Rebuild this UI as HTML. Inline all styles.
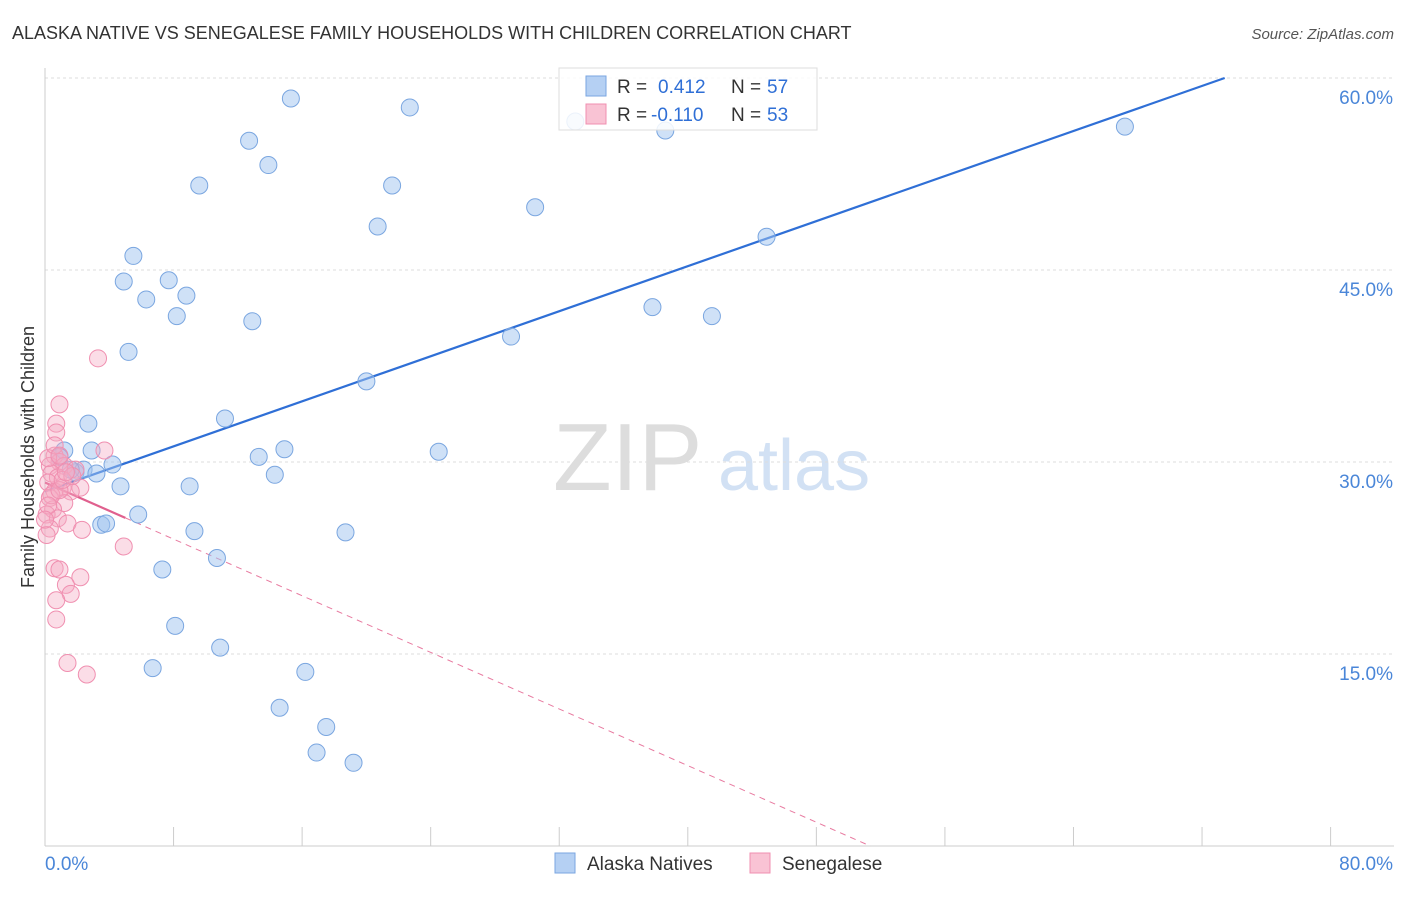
<!DOCTYPE html>
<html><head><meta charset="utf-8"><style>
body{margin:0;background:#fff;font-family:"Liberation Sans",sans-serif;}
svg text{font-family:"Liberation Sans",sans-serif;}
</style></head><body>
<svg id="chart" width="1406" height="892">
<text x="12" y="39" font-size="18" fill="#333">ALASKA NATIVE VS SENEGALESE FAMILY HOUSEHOLDS WITH CHILDREN CORRELATION CHART</text>
<text x="1394" y="39" font-size="15" fill="#555" text-anchor="end" font-style="italic">Source: ZipAtlas.com</text>
<text x="34" y="457" font-size="18" fill="#333" text-anchor="middle" transform="rotate(-90 34 457)">Family Households with Children</text>
<g><text x="553" y="490" font-size="96" fill="#ddd" font-family="Liberation Serif,serif">ZIP</text><text x="718" y="490" font-size="72" fill="#d2e1f4">atlas</text></g>
<g id="grid"></g><g id="axes"></g><g id="lines"></g><g id="pts"></g>
<g>
<rect x="559" y="68" width="258" height="62" fill="rgba(255,255,255,0.85)" stroke="#ddd"/>
<rect x="586" y="76" width="20" height="20" fill="#b5d0f3" stroke="#7aa6e0"/>
<text x="617" y="93" font-size="19" fill="#333">R =</text><text x="658" y="93" font-size="19" fill="#2f6fd6">0.412</text>
<text x="731" y="93" font-size="19" fill="#333">N =</text><text x="767" y="93" font-size="19" fill="#2f6fd6">57</text>
<rect x="586" y="104" width="20" height="20" fill="#f9c3d4" stroke="#f08fb0"/>
<text x="617" y="121" font-size="19" fill="#333">R =</text><text x="651" y="121" font-size="19" fill="#2f6fd6">-0.110</text>
<text x="731" y="121" font-size="19" fill="#333">N =</text><text x="767" y="121" font-size="19" fill="#2f6fd6">53</text>
</g>
<g>
<rect x="555" y="853" width="20" height="20" fill="#b5d0f3" stroke="#7aa6e0"/>
<text x="587" y="870" font-size="19" fill="#333">Alaska Natives</text>
<rect x="750" y="853" width="20" height="20" fill="#f9c3d4" stroke="#f08fb0"/>
<text x="782" y="870" font-size="19" fill="#333">Senegalese</text>
</g>
</svg>
<script>
const blueX=[15.3,22.7,12.7,13.9,9.6,21.6,30.5,20.7,5.5,4.9,7.7,6.3,8.8,8.2,12.9,5.2,20.0,29.0,37.8,41.5,44.9,38.6,33.0,67.2,2.7,1.2,2.9,1.9,2.4,3.2,4.2,11.2,13.3,14.9,14.3,24.5,4.7,9.0,5.8,3.5,3.8,9.3,18.7,10.7,7.3,8.1,10.9,6.7,16.2,14.6,17.5,16.9,19.2,0.9,1.6];
const blueY=[58.4,57.7,55.1,53.2,51.6,51.6,49.9,48.4,46.1,44.1,44.2,42.7,43.0,41.4,41.0,38.6,36.3,39.8,42.1,41.4,47.6,55.9,56.6,56.2,33.0,30.9,30.9,29.2,29.4,29.1,29.8,33.4,30.4,31.0,29.0,30.8,28.1,28.1,25.9,25.1,25.2,24.6,24.5,22.5,21.6,17.2,15.5,13.9,13.6,10.8,9.3,7.3,6.5,30.4,29.4];
const pinkX=[3.3,0.9,0.7,0.7,3.7,0.6,0.9,0.3,1.2,0.4,0.8,0.2,1.1,2.2,0.6,1.6,0.3,1.2,0.5,0.1,0.8,1.4,0.3,2.3,0.1,4.9,0.6,0.9,2.2,1.3,1.6,0.7,0.7,1.4,2.6,0.2,1.9,0.4,0.9,0.2,0.0,1.1,1.7,0.6,0.9,1.3];
const pinkY=[38.1,34.5,33.0,32.3,30.9,30.5,30.0,29.7,29.7,29.1,28.8,28.4,28.0,28.0,27.7,27.7,27.2,26.8,26.3,25.9,25.6,25.2,24.8,24.7,24.3,23.4,21.7,21.6,21.0,20.4,19.7,19.2,17.7,14.3,13.4,30.3,29.4,27.4,27.8,26.6,25.5,28.6,28.9,31.3,30.5,29.2];
const yTicks=[15,30,45,60];
const blueFit=[27.7,0.44];
const pinkFit=[28.4,-0.553];
const NS="http://www.w3.org/2000/svg";
const sx=v=>45+v*16.07, sy=v=>846-v*12.8;
function mk(tag,attrs,parent){const e=document.createElementNS(NS,tag);for(const k in attrs)e.setAttribute(k,attrs[k]);document.getElementById(parent).appendChild(e);return e;}
yTicks.forEach(t=>{
 const l=mk('line',{x1:45,x2:1394,y1:sy(t),y2:sy(t),stroke:'#ddd','stroke-dasharray':'3,3'},'grid');
 
 
 const tx=mk('text',{x:1393,y:sy(t)+26,'font-size':19,fill:'#4a86d8','text-anchor':'end'},'grid');tx.textContent=t.toFixed(1)+'%';
 
 
});
mk('line',{x1:45,x2:45,y1:68,y2:846,stroke:'#ccc'},'axes');
mk('line',{x1:45,x2:1394,y1:846,y2:846,stroke:'#ccc'},'axes');
for(let i=0;i<=10;i++){mk('line',{x1:sx(i*8),x2:sx(i*8),y1:827,y2:846,stroke:'#ccc'},'axes');}
let t0=mk('text',{x:45,y:870,'font-size':19,fill:'#4a86d8'},'axes');t0.textContent='0.0%';


let t1=mk('text',{x:1393,y:870,'font-size':19,fill:'#4a86d8','text-anchor':'end'},'axes');t1.textContent='80.0%';


blueX.forEach((x,i)=>{const c=mk('circle',{cx:sx(x),cy:sy(blueY[i]),r:8.5,fill:'rgba(160,196,240,0.5)',stroke:'#7aa6e0','stroke-width':1},'pts');
 
 });
pinkX.forEach((x,i)=>{const c=mk('circle',{cx:sx(x),cy:sy(pinkY[i]),r:8.5,fill:'rgba(245,170,195,0.4)',stroke:'#f08fb0','stroke-width':1},'pts');
 
 });
const bx2=(60-blueFit[0])/blueFit[1];
const bl=mk('line',{x1:sx(0),y1:sy(blueFit[0]),x2:sx(bx2),y2:sy(60),stroke:'#2f6fd6','stroke-width':2.2},'lines');


const px0=-pinkFit[0]/pinkFit[1];
const pd=mk('line',{x1:sx(5),y1:sy(pinkFit[0]+pinkFit[1]*5),x2:sx(px0),y2:sy(0),stroke:'#e87aa0','stroke-width':1,'stroke-dasharray':'6,5'},'lines');


const ps=mk('line',{x1:sx(0),y1:sy(pinkFit[0]),x2:sx(5),y2:sy(pinkFit[0]+pinkFit[1]*5),stroke:'#e0608e','stroke-width':2.2},'lines');


</script>
</body></html>
